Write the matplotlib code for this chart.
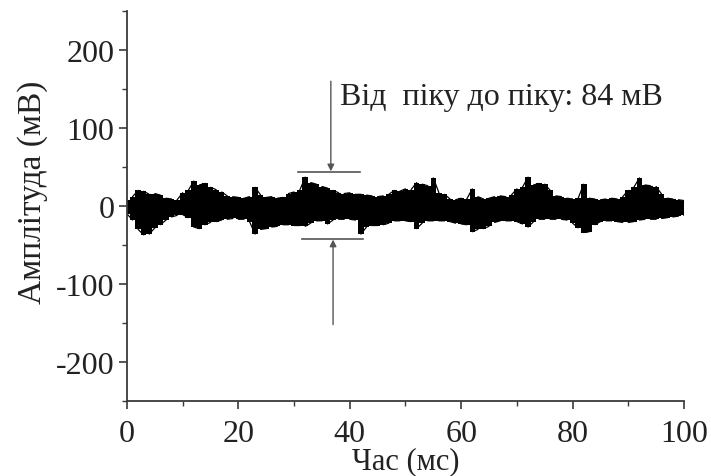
import numpy as np
import matplotlib
matplotlib.use("Agg")
import matplotlib.pyplot as plt

# ---- data (envelope of the noisy trace, 1 ms spacing) ----
time_ms = list(range(0, 101))
upper_mv = [8, 12, 20, 19, 15, 16, 14, 10, 9, 8,
            17, 20, 32, 27, 29, 24, 21, 18, 13, 12,
            11, 10, 12, 24, 14, 11, 12, 10, 11, 16,
            18, 20, 37, 30, 28, 25, 23, 20, 17, 16,
            17, 15, 15, 14, 13, 12, 13, 15, 20, 19,
            22, 21, 30, 28, 26, 36, 17, 15, 9, 8,
            10, 9, 22, 12, 9, 10, 12, 13, 12, 14,
            22, 24, 37, 27, 29, 28, 20, 13, 12, 10,
            9, 10, 28, 10, 9, 8, 9, 10, 9, 12,
            20, 24, 36, 27, 26, 25, 15, 10, 9, 8, 7]
lower_mv = [-10, -18, -30, -37, -36, -28, -24, -18, -14, -12,
            -11, -15, -27, -29, -24, -21, -20, -18, -17, -16,
            -17, -17, -20, -36, -30, -29, -27, -26, -24, -24,
            -25, -25, -26, -22, -19, -19, -23, -18, -17, -17,
            -17, -18, -36, -27, -25, -25, -24, -22, -19, -19,
            -19, -20, -29, -22, -19, -19, -19, -19, -20, -22,
            -23, -24, -33, -30, -29, -26, -21, -19, -19, -19,
            -20, -23, -27, -20, -17, -17, -17, -17, -17, -18,
            -22, -28, -34, -33, -24, -20, -19, -19, -20, -21,
            -21, -20, -18, -17, -17, -17, -16, -15, -14, -13, -12]

x_ticks = [0, 20, 40, 60, 80, 100]
y_ticks = [-200, -100, 0, 100, 200]
x_label = "Час (мс)"
y_label = "Амплітуда (мВ)"
note_text = "Від  піку до піку: 84 мВ"

# annotation geometry (data units)
top_bar = ([30.7, 41.8], 43.6)
bot_bar = ([31.4, 42.3], -42.3)
top_arrow = (36.6, 160, 44.5)
bot_arrow = (37.0, -152, -43.0)
note_pos = (38.3, 140)

plt.rcParams['font.family'] = ['Liberation Serif', 'DejaVu Serif']
plt.rcParams['axes.unicode_minus'] = False

fig = plt.figure(figsize=(7.11, 4.77), dpi=100)
ax = fig.add_axes([0.1786, 0.1572, 0.7834, 0.8176])

t = np.array(time_ms, dtype=float)
up = np.array(upper_mv, dtype=float)
lo = np.array(lower_mv, dtype=float)

ax.fill_between(t, lo, up, step='mid', color='black', linewidth=0)
# zig-zag trace through the read envelope values
zx = np.repeat(t, 2)
zy = np.empty_like(zx)
zy[0::4] = up[0::2]
zy[1::4] = lo[0::2]
zy[2::4] = lo[1::2]
zy[3::4] = up[1::2]
ax.plot(zx, zy, color='black', linewidth=0.9)

ax.set_xlim(0, 100)
ax.set_ylim(-250, 250)
ax.set_xticks(x_ticks)
ax.set_yticks(y_ticks)
ax.set_xticks(np.arange(10, 100, 20), minor=True)
ax.set_yticks([-250, -150, -50, 50, 150, 250], minor=True)

for s in ['top', 'right']:
    ax.spines[s].set_visible(False)
for s in ['left', 'bottom']:
    ax.spines[s].set_color('#3a3a3a')
    ax.spines[s].set_linewidth(1.3)

ax.tick_params(which='major', direction='out', length=6, width=1.2, color='#3a3a3a',
               labelsize=23, labelcolor='#222222', pad=3)
ax.tick_params(axis='x', which='major', pad=7)
ax.tick_params(which='minor', direction='out', length=3.5, width=1.0, color='#3a3a3a')

ax.set_xlabel(x_label, fontsize=22, color='#222222')
ax.xaxis.set_label_coords(0.5, -0.115)
ax.set_ylabel(y_label, fontsize=24, color='#222222')
ax.yaxis.set_label_coords(-0.142, 0.538)

# peak-to-peak annotation
ax.plot(top_bar[0], [top_bar[1]] * 2, color='#555555', linewidth=1.2)
ax.plot(bot_bar[0], [bot_bar[1]] * 2, color='#555555', linewidth=1.2)
ax.annotate('', xy=(top_arrow[0], top_arrow[2]), xytext=(top_arrow[0], top_arrow[1]),
            arrowprops=dict(arrowstyle='-|>', color='#555555', lw=1.0,
                            mutation_scale=10, shrinkA=0, shrinkB=0))
ax.annotate('', xy=(bot_arrow[0], bot_arrow[2]), xytext=(bot_arrow[0], bot_arrow[1]),
            arrowprops=dict(arrowstyle='-|>', color='#555555', lw=1.0,
                            mutation_scale=10, shrinkA=0, shrinkB=0))
ax.text(note_pos[0], note_pos[1], note_text, fontsize=23, color='#222222',
        ha='left', va='center')

fig.savefig('out.png', dpi=100)
